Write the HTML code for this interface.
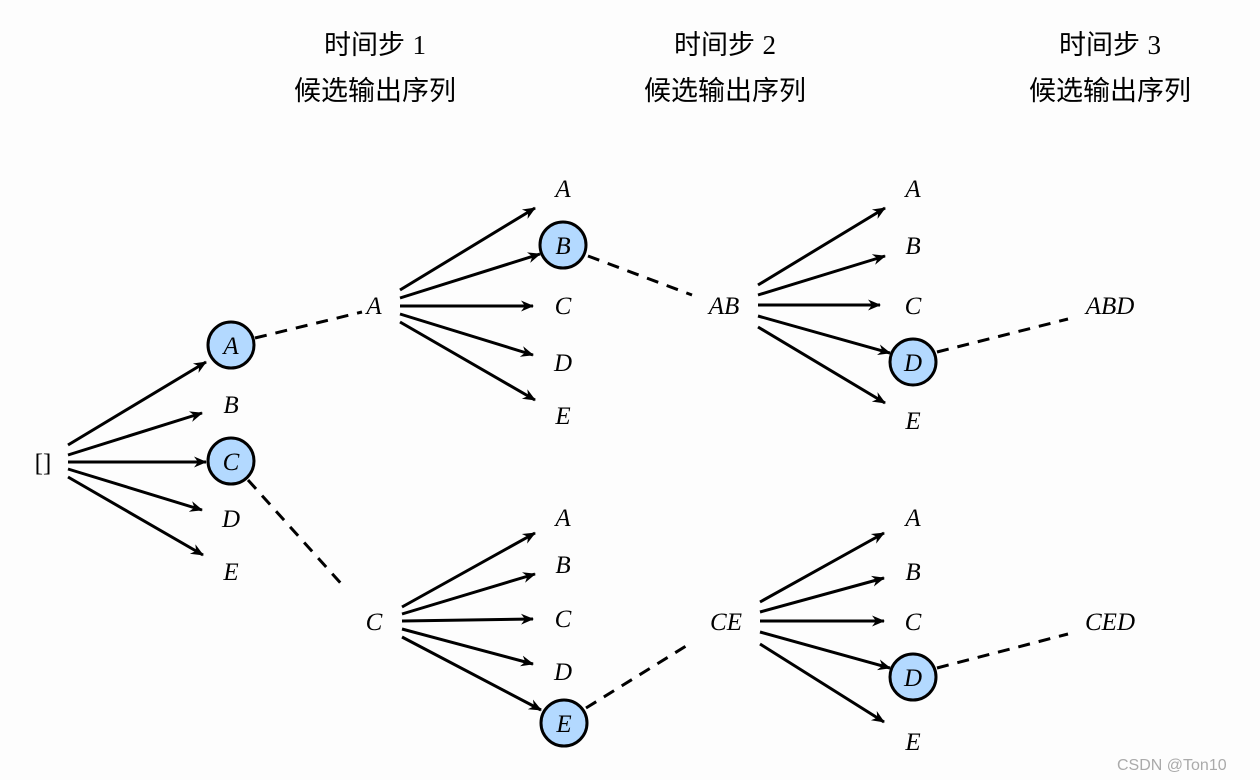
<!DOCTYPE html>
<html><head><meta charset="utf-8"><style>
html,body{margin:0;padding:0;background:#fdfdfd;}
svg{display:block;}
.l{font-family:"Liberation Serif",serif;font-style:italic;font-size:25px;fill:#000;}
.h{font-family:"Liberation Sans","Noto Sans CJK SC",sans-serif;font-size:27px;fill:#000;}
.d{font-family:"Liberation Serif",serif;}
</style></head><body>
<svg width="1260" height="780" viewBox="0 0 1260 780" xmlns="http://www.w3.org/2000/svg">
<defs>
<marker id="ar" markerWidth="14" markerHeight="12" refX="12" refY="6" orient="auto" markerUnits="userSpaceOnUse">
<path d="M0,0.5 L13,6 L0,11.5 L4,6 z" fill="#000"/>
</marker>
</defs>
<g text-anchor="middle">
<text class="h" x="375" y="54">时间步 <tspan class="d">1</tspan></text>
<text class="h" x="375" y="100">候选输出序列</text>
<text class="h" x="725" y="54">时间步 <tspan class="d">2</tspan></text>
<text class="h" x="725" y="100">候选输出序列</text>
<text class="h" x="1110" y="54">时间步 <tspan class="d">3</tspan></text>
<text class="h" x="1110" y="100">候选输出序列</text>
</g>
<g stroke="#000" stroke-width="3" fill="none" marker-end="url(#ar)">
<line x1="68" y1="445" x2="206" y2="362"/>
<line x1="68" y1="455" x2="202" y2="413"/>
<line x1="68" y1="462" x2="206" y2="462"/>
<line x1="68" y1="469" x2="202" y2="510"/>
<line x1="68" y1="477" x2="203" y2="555"/>

<line x1="400" y1="290" x2="535" y2="208"/>
<line x1="400" y1="298" x2="540" y2="254"/>
<line x1="400" y1="306" x2="533" y2="306"/>
<line x1="400" y1="314" x2="533" y2="355"/>
<line x1="400" y1="322" x2="535" y2="400"/>

<line x1="758" y1="285" x2="885" y2="208"/>
<line x1="758" y1="295" x2="885" y2="256"/>
<line x1="758" y1="305" x2="880" y2="305"/>
<line x1="758" y1="316" x2="890" y2="353"/>
<line x1="758" y1="327" x2="885" y2="403"/>

<line x1="402" y1="607" x2="535" y2="533"/>
<line x1="402" y1="614" x2="535" y2="574"/>
<line x1="402" y1="621" x2="533" y2="619"/>
<line x1="402" y1="629" x2="533" y2="664"/>
<line x1="402" y1="637" x2="541" y2="710"/>

<line x1="760" y1="602" x2="884" y2="533"/>
<line x1="760" y1="612" x2="884" y2="578"/>
<line x1="760" y1="621" x2="884" y2="621"/>
<line x1="760" y1="632" x2="890" y2="668"/>
<line x1="760" y1="644" x2="884" y2="722"/>
</g>
<g stroke="#000" stroke-width="3" stroke-dasharray="12,9" fill="none">
<line x1="255" y1="338" x2="362" y2="312"/>
<line x1="248" y1="480" x2="345" y2="588"/>
<line x1="588" y1="256" x2="692" y2="295"/>
<line x1="586" y1="708" x2="686" y2="646"/>
<line x1="937" y1="352" x2="1068" y2="319"/>
<line x1="937" y1="668" x2="1068" y2="634"/>
</g>
<g fill="#b3d9ff" stroke="#000" stroke-width="3">
<circle cx="231" cy="345" r="23"/>
<circle cx="231" cy="461" r="23"/>
<circle cx="563" cy="245" r="23"/>
<circle cx="913" cy="362" r="23"/>
<circle cx="564" cy="723" r="23"/>
<circle cx="913" cy="677" r="23"/>
</g>
<g text-anchor="middle">
<text x="43" y="471" style="font-family:'Liberation Serif',serif;font-size:25px">[]</text>
<text class="l" x="231" y="354">A</text>
<text class="l" x="231" y="413">B</text>
<text class="l" x="231" y="470">C</text>
<text class="l" x="231" y="527">D</text>
<text class="l" x="231" y="580">E</text>
<text class="l" x="374" y="314">A</text>
<text class="l" x="374" y="630">C</text>
<text class="l" x="563" y="197">A</text>
<text class="l" x="563" y="254">B</text>
<text class="l" x="563" y="314">C</text>
<text class="l" x="563" y="371">D</text>
<text class="l" x="563" y="424">E</text>
<text class="l" x="724" y="314">AB</text>
<text class="l" x="913" y="197">A</text>
<text class="l" x="913" y="254">B</text>
<text class="l" x="913" y="314">C</text>
<text class="l" x="913" y="371">D</text>
<text class="l" x="913" y="429">E</text>
<text class="l" x="1110" y="314">ABD</text>
<text class="l" x="563" y="526">A</text>
<text class="l" x="563" y="573">B</text>
<text class="l" x="563" y="627">C</text>
<text class="l" x="563" y="680">D</text>
<text class="l" x="564" y="732">E</text>
<text class="l" x="726" y="630">CE</text>
<text class="l" x="913" y="526">A</text>
<text class="l" x="913" y="580">B</text>
<text class="l" x="913" y="630">C</text>
<text class="l" x="913" y="686">D</text>
<text class="l" x="913" y="750">E</text>
<text class="l" x="1110" y="630">CED</text>
</g>
<text x="1117" y="770" style="font-family:'Liberation Sans',sans-serif;font-size:16px;fill:#aaa">CSDN @Ton10</text>
</svg>
</body></html>
